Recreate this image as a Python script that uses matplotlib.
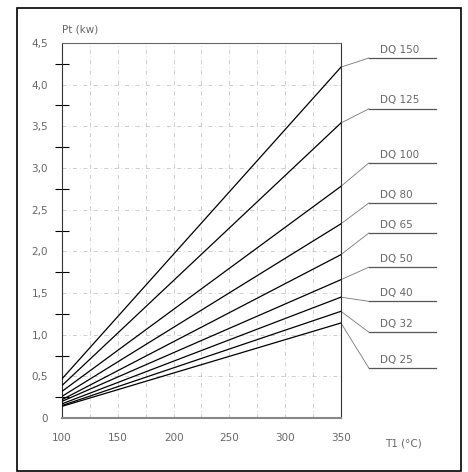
import matplotlib
matplotlib.use('Agg')
import matplotlib.pyplot as plt
from matplotlib.patches import Rectangle

# Data
models = ['DQ 150', 'DQ 125', 'DQ 100', 'DQ 80', 'DQ 65', 'DQ 50', 'DQ 40', 'DQ 32', 'DQ 25']
t_start, t_end = 100, 350
p_start = [0.47, 0.39, 0.32, 0.26, 0.22, 0.20, 0.17, 0.15, 0.14]
p_end = [4.21, 3.54, 2.78, 2.33, 1.96, 1.66, 1.45, 1.28, 1.14]
label_y = [4.32, 3.71, 3.06, 2.58, 2.22, 1.81, 1.40, 1.03, 0.60]

xticks = [100, 150, 200, 250, 300, 350]
yticks = [0, 0.5, 1.0, 1.5, 2.0, 2.5, 3.0, 3.5, 4.0, 4.5]
yticklabels = ['0', '0,5', '1,0', '1,5', '2,0', '2,5', '3,0', '3,5', '4,0', '4,5']

txt = '#666666'
fig = plt.figure(figsize=(4.68, 4.72), dpi=100)
ax = fig.add_axes([0.1325, 0.1144, 0.596, 0.7945])

# outer frame of the drawing
fig.patches.append(Rectangle((17 / 468, 1 / 472), 444 / 468, 463 / 472,
                             transform=fig.transFigure, fill=False,
                             edgecolor='black', linewidth=1.2))

# dash-dot construction grid
for gx in range(125, 350, 25):
    ax.axvline(gx, color='#bbbbbb', lw=0.5, ls=(0, (6, 4, 1, 4)), zorder=0)
for gy in yticks[1:-1]:
    ax.axhline(gy, color='#bbbbbb', lw=0.5, ls=(0, (6, 4, 1, 4)), zorder=0)

for name, p0, p1, ly in zip(models, p_start, p_end, label_y):
    ax.plot([t_start, t_end], [p0, p1], color='black', lw=0.9, zorder=3)
    # leader, underline and label
    ax.plot([t_end, 375], [p1, ly], color='#777777', lw=0.6, clip_on=False)
    ax.plot([375, 435], [ly, ly], color='#555555', lw=0.9, clip_on=False)
    ax.text(385, ly + 0.04, name, fontsize=7.5, color=txt, va='bottom',
            ha='left', clip_on=False)

ax.set_xlim(t_start, t_end)
ax.set_ylim(0, 4.5)
ax.set_xticks(xticks)
ax.set_xticklabels([str(x) for x in xticks], color=txt, fontsize=7.5)
ax.set_yticks(yticks)
ax.set_yticklabels(yticklabels, color=txt, fontsize=7.5)
ax.set_yticks([0.25 + 0.5 * i for i in range(9)], minor=True)
ax.tick_params(axis='y', which='major', length=0, pad=10)
ax.tick_params(axis='y', which='minor', direction='inout', length=10, width=0.8)
ax.tick_params(axis='x', which='major', length=0, pad=11)

ax.spines['top'].set_color('#666666')
ax.spines['top'].set_linewidth(0.8)
ax.spines['bottom'].set_color('#888888')
ax.spines['bottom'].set_linewidth(1.5)
ax.spines['left'].set_color('#333333')
ax.spines['right'].set_color('#333333')

fig.text(62 / 468, 1 - 30 / 472, 'Pt (kw)', fontsize=7.5, color=txt,
         ha='left', va='center')
fig.text(385 / 468, 1 - 443 / 472, 'T1 (°C)', fontsize=7.5, color=txt,
         ha='left', va='center')

fig.savefig('out.png', dpi=100)
